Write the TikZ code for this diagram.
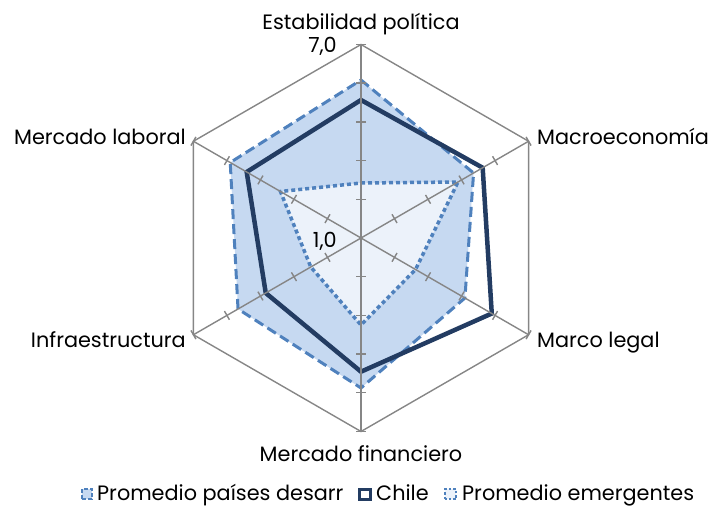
\documentclass[tikz,border=0pt]{standalone}
\usepackage{fontspec}
\setmainfont{Poppins}
\definecolor{gridgray}{RGB}{134,134,134}
\definecolor{serblue}{RGB}{79,129,189}
\definecolor{desfillc}{RGB}{198,217,241}
\definecolor{emfillc}{RGB}{236,242,250}
\definecolor{navy}{RGB}{35,60,98}
\tikzset{
  lbl/.style={font=\fontsize{20.8}{24}\selectfont, inner sep=0pt, text=black},
  gridline/.style={draw=gridgray, line width=1.4pt},
  desline/.style={draw=serblue, line width=3pt, dash pattern=on 10pt off 5pt},
  chileline/.style={draw=navy, line width=4.5pt, line join=miter},
  emline/.style={draw=serblue, line width=3.5pt, dash pattern=on 4pt off 3pt},
}
\begin{document}
\begin{tikzpicture}[x=1pt,y=1pt]
\useasboundingbox (0,0) rectangle (716,507);
\coordinate (O) at (361,269);
\def\R{193.5}
\begin{scope}[shift={(O)}]
  % fills
  \fill[desfillc] (90:158) -- (30:130) -- (-30:120) -- (-90:150) -- (-150:142) -- (150:151) -- cycle;
  \fill[emfillc] (90:55) -- (30:112) -- (-30:63) -- (-90:87) -- (-150:58) -- (150:93) -- cycle;
  % lines
  \draw[desline] (90:158) -- (30:130) -- (-30:120) -- (-90:150) -- (-150:142) -- (150:151) -- cycle;
  \draw[chileline] (90:138) -- (30:140.5) -- (-30:151) -- (-90:133.7) -- (-150:110) -- (150:132) -- cycle;
  \draw[emline] (90:55) -- (30:112) -- (-30:63) -- (-90:87) -- (-150:58) -- (150:93) -- cycle;
  % grid
  \draw[gridline] (90:\R) -- (30:\R) -- (-30:\R) -- (-90:\R) -- (-150:\R) -- (150:\R) -- cycle;
  \foreach \a in {90,30,-30,-90,-150,150}{
    \draw[gridline] (0,0) -- (\a:\R);
    \begin{scope}[rotate=\a]
      \foreach \k in {1,...,5}{
        \draw[gridline] (\k*38.7,-5) -- (\k*38.7,5);
      }
    \end{scope}
  }
\end{scope}
% axis labels
\node[lbl, anchor=base] (l1) at (361,477) {Estabilidad política};
\node[lbl, anchor=base west] (l2) at (537,362) {Macroeconomía};
\node[lbl, anchor=base west] (l3) at (537,159) {Marco legal};
\node[lbl, anchor=base] (l4) at (361,45.3) {Mercado financiero};
\node[lbl, anchor=base east] (l5) at (186,159) {Infraestructura};
\node[lbl, anchor=base east] (l6) at (186,362) {Mercado laboral};
\node[lbl, anchor=base east] (v7) at (337,454) {7,0};
\node[lbl, anchor=base east] (v1) at (337,259) {1,0};
% legend
\draw[fill=desfillc, draw=serblue, line width=2.5pt, dash pattern=on 4pt off 2pt] (82,8) rectangle (92,18);
\node[lbl, anchor=base west] (g1) at (97,7) {Promedio países desarr};
\draw[fill=white, draw=navy, line width=3pt] (359,8) rectangle (370,18);
\node[lbl, anchor=base west] (g2) at (376,7) {Chile};
\draw[fill=emfillc, draw=serblue, line width=2.5pt, dash pattern=on 2.5pt off 2pt] (445,8) rectangle (456,18);
\node[lbl, anchor=base west] (g3) at (462,7) {Promedio emergentes};
\end{tikzpicture}
\end{document}
